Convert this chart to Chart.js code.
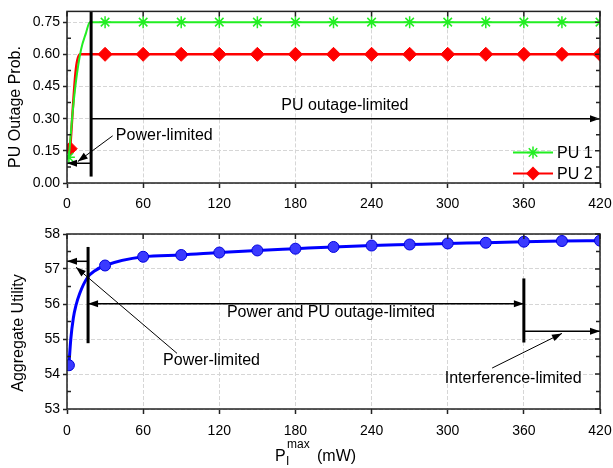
<!DOCTYPE html>
<html>
<head>
<meta charset="utf-8">
<script src="https://cdn.jsdelivr.net/npm/chart.js@4/dist/chart.umd.min.js"></script>
<style>
html,body{margin:0;padding:0;background:#fff}
#wrap{position:relative;width:613px;height:468px;overflow:hidden}
canvas{position:absolute;left:0}
#top{top:0}
#bot{top:215px}
</style>
</head>
<body>
<div id="wrap">
<canvas id="top" width="613" height="215"></canvas>
<canvas id="bot" width="613" height="253"></canvas>
</div>
<script>
var xTicks = [0, 60, 120, 180, 240, 300, 360, 420]
var outageTicks = [0.00, 0.15, 0.30, 0.45, 0.60, 0.75]
var utilTicks = [53, 54, 55, 56, 57, 58]

var pu1X = [1.5, 4, 7, 11, 15, 18, 30, 60, 90, 120, 150, 180, 210, 240, 270, 300, 330, 360, 390, 420]
var pu1Y = [0.12, 0.30, 0.47, 0.62, 0.70, 0.75, 0.75, 0.75, 0.75, 0.75, 0.75, 0.75, 0.75, 0.75, 0.75, 0.75, 0.75, 0.75, 0.75, 0.75]
var pu2X = [2.5, 7, 10.3, 30, 60, 90, 120, 150, 180, 210, 240, 270, 300, 330, 360, 390, 420]
var pu2Y = [0.16, 0.53, 0.60, 0.60, 0.60, 0.60, 0.60, 0.60, 0.60, 0.60, 0.60, 0.60, 0.60, 0.60, 0.60, 0.60, 0.60]
var utilX = [1.5, 3, 5, 7, 10, 16, 22, 30, 60, 90, 120, 150, 180, 210, 240, 270, 300, 330, 360, 390, 420]
var utilY = [54.25, 55.0, 55.6, 55.95, 56.3, 56.75, 56.95, 57.1, 57.35, 57.4, 57.47, 57.53, 57.58, 57.63, 57.67, 57.7, 57.73, 57.75, 57.78, 57.8, 57.81]

var FONT = "'Liberation Sans', Arial, sans-serif"

function pts(xs, ys){
    var out = []
    for(var i = 0; i < xs.length; i++) out.push({x: xs[i], y: ys[i]})
    return out
}

function markerAt(r){
    return function(c){
        if(!c.raw) return 0
        return (c.dataIndex === 0 || c.raw.x % 30 === 0) ? r : 0
    }
}

function arrowHead(ctx, x1, y1, x2, y2, len, half){
    var a = Math.atan2(y2 - y1, x2 - x1)
    ctx.beginPath()
    ctx.moveTo(x2, y2)
    ctx.lineTo(x2 - len * Math.cos(a) + half * Math.sin(a), y2 - len * Math.sin(a) - half * Math.cos(a))
    ctx.lineTo(x2 - len * Math.cos(a) - half * Math.sin(a), y2 - len * Math.sin(a) + half * Math.cos(a))
    ctx.closePath()
    ctx.fill()
}

// annotations in data units
var topNotes = {
    lines: [
        {x1: 19, y1: 0.03, x2: 19, y2: 0.8, w: 3},
        {x1: 19, y1: 0.30, x2: 420, y2: 0.30, w: 1.5, end: true},
        {x1: 19, y1: 0.092, x2: 0, y2: 0.092, w: 1.5, end: true},
        {x1: 36, y1: 0.22, x2: 8.5, y2: 0.10, w: 1, end: true}
    ],
    texts: [
        {t: 'Power-limited', x: 38.5, y: 0.22, align: 'left'},
        {t: 'PU outage-limited', x: 219, y: 0.36, align: 'center'}
    ]
}
var botNotes = {
    lines: [
        {x1: 16.6, y1: 54.88, x2: 16.6, y2: 57.63, w: 3},
        {x1: 16.6, y1: 57.22, x2: 0, y2: 57.22, w: 1.5, end: true},
        {x1: 86.7, y1: 54.59, x2: 7.1, y2: 57.05, w: 1, end: true},
        {x1: 16.6, y1: 56.01, x2: 360, y2: 56.01, w: 1.5, end: true, start: true},
        {x1: 360, y1: 54.9, x2: 360, y2: 56.73, w: 3},
        {x1: 360, y1: 55.22, x2: 420, y2: 55.22, w: 1.5, end: true},
        {x1: 335, y1: 54.17, x2: 390, y2: 55.16, w: 1, end: true}
    ],
    texts: [
        {t: 'Power-limited', x: 75.7, y: 54.39, align: 'left'},
        {t: 'Power and PU outage-limited', x: 208, y: 55.76, align: 'center'},
        {t: 'Interference-limited', x: 351.6, y: 53.88, align: 'center'}
    ]
}

function notesPlugin(notes){
    return {
        id: 'notes',
        afterDatasetsDraw: function(chart){
            var ctx = chart.ctx, sx = chart.scales.x, sy = chart.scales.y
            ctx.save()
            ctx.strokeStyle = '#000'
            ctx.fillStyle = '#000'
            notes.lines.forEach(function(l){
                var x1 = sx.getPixelForValue(l.x1), y1 = sy.getPixelForValue(l.y1)
                var x2 = sx.getPixelForValue(l.x2), y2 = sy.getPixelForValue(l.y2)
                ctx.lineWidth = l.w
                ctx.beginPath()
                ctx.moveTo(x1, y1)
                ctx.lineTo(x2, y2)
                ctx.stroke()
                if(l.end) arrowHead(ctx, x1, y1, x2, y2, 10, 3.5)
                if(l.start) arrowHead(ctx, x2, y2, x1, y1, 10, 3.5)
            })
            ctx.font = '16px ' + FONT
            ctx.textBaseline = 'middle'
            notes.texts.forEach(function(t){
                ctx.textAlign = t.align
                ctx.fillText(t.t, sx.getPixelForValue(t.x), sy.getPixelForValue(t.y))
            })
            ctx.restore()
        }
    }
}

var framePlugin = {
    id: 'frame',
    afterDraw: function(chart){
        var ctx = chart.ctx, a = chart.chartArea, sx = chart.scales.x, sy = chart.scales.y
        ctx.save()
        ctx.strokeStyle = '#222'
        ctx.lineWidth = 1.5
        ctx.strokeRect(a.left, a.top, a.right - a.left, a.bottom - a.top)
        ctx.beginPath()
        sx.ticks.forEach(function(t){
            var x = sx.getPixelForValue(t.value)
            ctx.moveTo(x, a.top); ctx.lineTo(x, a.top + 5)
        })
        var ys = sy.ticks.map(function(t){ return t.value })
        var step = ys[1] - ys[0]
        for(var v = sy.min; v <= sy.max + 1e-9; v += step / 2){
            var y = sy.getPixelForValue(v)
            var major = Math.abs(((v - ys[0]) / step) - Math.round((v - ys[0]) / step)) < 1e-6
            ctx.moveTo(a.right, y); ctx.lineTo(a.right - (major ? 5 : 4), y)
            if(!major){ ctx.moveTo(a.left, y); ctx.lineTo(a.left + 4, y) }
        }
        ctx.stroke()
        ctx.restore()
    }
}

function yTitlePlugin(text, x, y){
    return {
        id: 'ytitle',
        afterDraw: function(chart){
            var ctx = chart.ctx
            ctx.save()
            ctx.translate(x, y)
            ctx.rotate(-Math.PI / 2)
            ctx.fillStyle = '#000'
            ctx.font = '16px ' + FONT
            ctx.textAlign = 'center'
            ctx.textBaseline = 'middle'
            ctx.fillText(text, 0, 0)
            ctx.restore()
        }
    }
}

var legendPlugin = {
    id: 'pulegend',
    afterDraw: function(chart){
        var ctx = chart.ctx
        var items = [
            {t: 'PU 1', c: '#22ee22', y: 152.5, m: 'star'},
            {t: 'PU 2', c: '#ff0000', y: 173.5, m: 'diamond'}
        ]
        ctx.save()
        items.forEach(function(it){
            ctx.strokeStyle = it.c
            ctx.fillStyle = it.c
            ctx.lineWidth = 2
            ctx.beginPath(); ctx.moveTo(513, it.y); ctx.lineTo(553, it.y); ctx.stroke()
            if(it.m === 'star'){
                ctx.lineWidth = 1.5
                ctx.beginPath()
                for(var k = 0; k < 4; k++){
                    var an = k * Math.PI / 4
                    ctx.moveTo(533 - 6 * Math.cos(an), it.y - 6 * Math.sin(an))
                    ctx.lineTo(533 + 6 * Math.cos(an), it.y + 6 * Math.sin(an))
                }
                ctx.stroke()
            } else {
                ctx.beginPath()
                ctx.moveTo(533, it.y - 7); ctx.lineTo(540, it.y); ctx.lineTo(533, it.y + 7); ctx.lineTo(526, it.y)
                ctx.closePath(); ctx.fill()
            }
            ctx.fillStyle = '#000'
            ctx.font = '16px ' + FONT
            ctx.textBaseline = 'middle'
            ctx.textAlign = 'left'
            ctx.fillText(it.t, 557, it.y + 1)
        })
        ctx.restore()
    }
}

var xTitlePlugin = {
    id: 'xtitle',
    afterDraw: function(chart){
        var ctx = chart.ctx
        var base = 461 - 215
        ctx.save()
        ctx.fillStyle = '#000'
        ctx.textAlign = 'left'
        ctx.textBaseline = 'alphabetic'
        ctx.font = '16px ' + FONT
        ctx.fillText('P', 275, base)
        ctx.font = '12px ' + FONT
        ctx.fillText('max', 287, base - 13)
        ctx.fillText('I', 286, base + 4)
        ctx.font = '16px ' + FONT
        ctx.fillText('(mW)', 317, base)
        ctx.restore()
    }
}

function xScale(h, pad){
    return {
        type: 'linear', min: 0, max: 420,
        afterBuildTicks: function(s){ s.ticks = xTicks.map(function(v){ return {value: v} }) },
        afterFit: function(s){
            s.height = h
            s.paddingLeft = 0
            s.paddingRight = 0
        },
        grid: {color: '#d6d6d6', lineWidth: 1, tickColor: '#222', tickLength: 5, tickWidth: 1.5},
        border: {display: false, dash: [4, 2]},
        ticks: {color: '#000', font: {family: FONT, size: 14}, padding: pad, maxRotation: 0}
    }
}

function yScale(min, max, list, fmt){
    return {
        type: 'linear', min: min, max: max,
        afterBuildTicks: function(s){ s.ticks = list.map(function(v){ return {value: v} }) },
        afterFit: function(s){ s.width = 67 },
        grid: {color: '#d6d6d6', lineWidth: 1, tickColor: '#222', tickLength: 4, tickWidth: 1.5},
        border: {display: false, dash: [4, 2]},
        ticks: {color: '#000', font: {family: FONT, size: 14}, padding: 3, callback: fmt}
    }
}

var common = {
    responsive: false,
    animation: false,
    plugins: {legend: {display: false}, tooltip: {enabled: false}}
}

var topChart = new Chart(document.getElementById('top').getContext('2d'), {
    type: 'line',
    data: {
        datasets: [
            {label: 'PU 1', data: pts(pu1X, pu1Y), borderColor: '#22ee22', backgroundColor: '#22ee22',
             borderWidth: 2, pointStyle: 'star', pointRadius: markerAt(6), pointBorderWidth: 1.5,
             pointBorderColor: '#22ee22', cubicInterpolationMode: 'monotone'},
            {label: 'PU 2', data: pts(pu2X, pu2Y), borderColor: '#ff0000', backgroundColor: '#ff0000',
             borderWidth: 2.5, pointStyle: 'rectRot', pointRadius: markerAt(7), pointBorderWidth: 1,
             cubicInterpolationMode: 'monotone'}
        ]
    },
    options: Object.assign({}, common, {
        layout: {padding: {top: 8, right: 13, left: 0, bottom: 0}},
        scales: {
            x: xScale(32, 8),
            y: yScale(0, 0.8, outageTicks, function(v){ return Number(v).toFixed(2) })
        }
    }),
    plugins: [notesPlugin(topNotes), framePlugin, legendPlugin, yTitlePlugin('PU Outage Prob.', 16, 107)]
})

var botChart = new Chart(document.getElementById('bot').getContext('2d'), {
    type: 'line',
    data: {
        datasets: [
            {label: 'Aggregate Utility', data: pts(utilX, utilY), borderColor: '#0000ff', backgroundColor: '#3a3aff',
             borderWidth: 3, pointStyle: 'circle', pointRadius: markerAt(5.5), pointBorderWidth: 1,
             pointBorderColor: '#0000dd', cubicInterpolationMode: 'monotone'}
        ]
    },
    options: Object.assign({}, common, {
        layout: {padding: {top: 19, right: 13, left: 0, bottom: 0}},
        scales: {
            x: xScale(59, 9),
            y: yScale(53, 58, utilTicks, function(v){ return v })
        }
    }),
    plugins: [notesPlugin(botNotes), framePlugin, xTitlePlugin, yTitlePlugin('Aggregate Utility', 19, 333 - 215)]
})
</script>
</body>
</html>
